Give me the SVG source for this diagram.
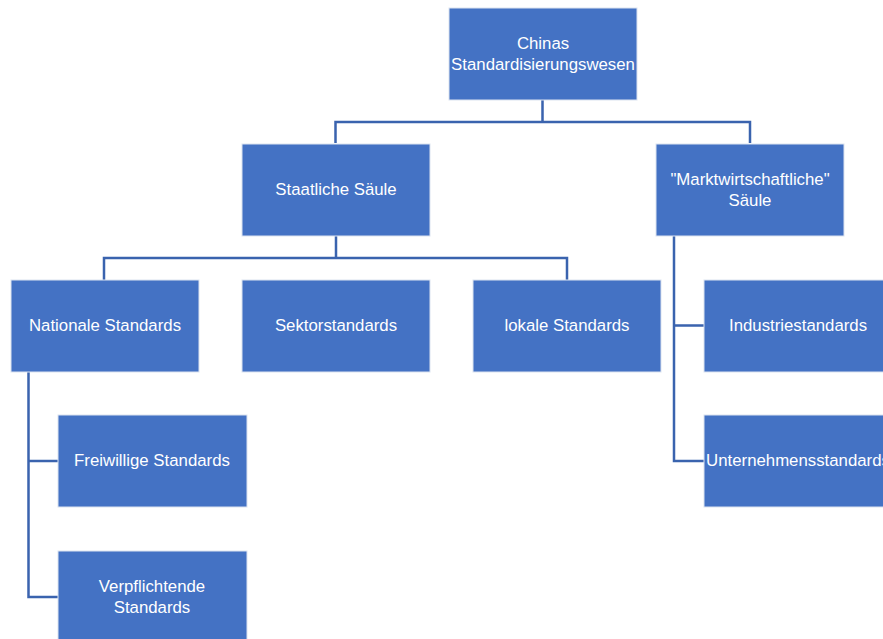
<svg xmlns="http://www.w3.org/2000/svg" width="883" height="639" viewBox="0 0 883 639">
<style>
.box{fill:#4472C4;stroke:#DCE3F0;stroke-width:1}
.t{font-family:"Liberation Sans",Arial,sans-serif;font-size:16.8px;fill:#FFFFFF;text-anchor:middle}
.c{fill:none;stroke:#3A63AE;stroke-width:2.5}
</style>
<rect width="883" height="639" fill="#FFFFFF"/>
<g id="connectors">
<path class="c" d="M542.5,100 V122 M335.5,143 V122 H750 V143"/>
<path class="c" d="M336,236 V258 M104,280 V258 H567 V280"/>
<path class="c" d="M28.5,372 V597 H58 M28.5,461 H58"/>
<path class="c" d="M674,236 V461 H704 M674,325.5 H704"/>
</g>
<g id="n-china"><rect class="box" x="449" y="8" width="188" height="92"/><text class="t" x="543" y="49">Chinas</text><text class="t" x="543" y="70">Standardisierungswesen</text></g>
<g id="n-staat"><rect class="box" x="242" y="144" width="188" height="92"/><text class="t" x="336" y="195">Staatliche Säule</text></g>
<g id="n-markt"><rect class="box" x="656" y="144" width="188" height="92"/><text class="t" x="750" y="185">"Marktwirtschaftliche"</text><text class="t" x="750" y="206">Säule</text></g>
<g id="n-national"><rect class="box" x="11" y="280" width="188" height="92"/><text class="t" x="105" y="331">Nationale Standards</text></g>
<g id="n-sektor"><rect class="box" x="242" y="280" width="188" height="92"/><text class="t" x="336" y="331">Sektorstandards</text></g>
<g id="n-lokal"><rect class="box" x="473" y="280" width="188" height="92"/><text class="t" x="567" y="331">lokale Standards</text></g>
<g id="n-industrie"><rect class="box" x="704" y="280" width="188" height="92"/><text class="t" x="798" y="331">Industriestandards</text></g>
<g id="n-freiwillig"><rect class="box" x="58" y="415" width="189" height="92"/><text class="t" x="152" y="466">Freiwillige Standards</text></g>
<g id="n-verpflichtend"><rect class="box" x="58" y="551" width="189" height="92"/><text class="t" x="152" y="592">Verpflichtende</text><text class="t" x="152" y="613">Standards</text></g>
<g id="n-unternehmen"><rect class="box" x="704" y="415" width="188" height="92"/><text class="t" x="798" y="466">Unternehmensstandards</text></g>
</svg>
